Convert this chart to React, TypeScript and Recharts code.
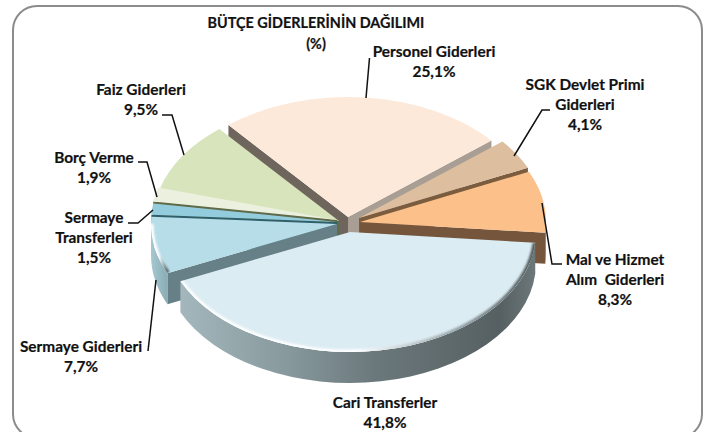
import React from 'react'
import {PieChart, Pie} from 'recharts'

const categories = ['Personel Giderleri', 'SGK Devlet Primi Giderleri', 'Mal ve Hizmet Alım  Giderleri', 'Cari Transferler', 'Sermaye Giderleri', 'Sermaye Transferleri', 'Borç Verme', 'Faiz Giderleri']
const values = [25.1, 4.1, 8.3, 41.8, 7.7, 1.5, 1.9, 9.5]
const valueLabels = ['25,1%', '4,1%', '8,3%', '41,8%', '7,7%', '1,5%', '1,9%', '9,5%']
const titleLines = ['BÜTÇE GİDERLERİNİN DAĞILIMI', '(%)']

const data = categories.map((name, i) => ({name, value: values[i]}))

// look of each slice, same order as categories
const topColors = ['#FDE9D9', '#DDBE9E', '#FCC08A', '#DCECF3', '#B7DDE8', '#93CDDD', '#EBF1DE', '#D7E4BC']
const wallColors = ['#6E655C', '#7B5C3E', '#75563D', '#7C8C90', '#678087', '#2F5F6B', '#5E6A48', '#5E6A48']
const endWallColors = ['#A89E94', '#7B5C3E', '#75563D', '#7C8C90', '#678087', '#2F5F6B', '#5E6A48', '#5E6A48']
const rimColors = ['#B8A99A', '#8F6F50', '#8A6A4C', 'url(#cariRim)', 'url(#sermayeRim)', '#6E9BA6', '#A8B08F', '#98A67C']
const explode = [[1, -4], [12, -3], [13, 1], [3, 11], [-10, 3], [-10, 1], [-10, -1], [-8, 0]]

// back to front
const drawOrder = [0, 1, 2, 7, 6, 5, 4, 3]

const SQUASH = 0.645
const DEPTH = 31
const RAD = Math.PI / 180

function Slice(props: any) {
  const {cx, cy, outerRadius, startAngle, endAngle, index} = props
  const rx = outerRadius
  const ry = outerRadius * SQUASH
  const x0 = cx + explode[index][0]
  const y0 = cy + explode[index][1]
  const pt = (a: number, d = 0) => [x0 + rx * Math.cos(a * RAD), y0 - ry * Math.sin(a * RAD) + d]
  const arc = (from: number, to: number, d = 0) => {
    const p = pt(to, d)
    return `A${rx} ${ry} 0 ${Math.abs(from - to) > 180 ? 1 : 0} ${from > to ? 1 : 0} ${p[0]} ${p[1]}`
  }
  const wall = (a: number) => {
    const p = pt(a)
    return `M${x0} ${y0}L${p[0]} ${p[1]}L${p[0]} ${p[1] + DEPTH}L${x0} ${y0 + DEPTH}Z`
  }
  const s = pt(startAngle)
  const top = `M${x0} ${y0}L${s[0]} ${s[1]}${arc(startAngle, endAngle)}Z`

  // outer rim: only the part of the arc below the horizontal shows
  let rim = null
  let bevel = null
  const rimFrom = startAngle > 0 ? (endAngle < 0 ? 0 : null) : Math.min(startAngle, 0)
  let rimTo = endAngle
  if (rimFrom !== null && rimTo < -180) rimTo = -180
  if (rimFrom !== null && rimFrom > rimTo) {
    const a = pt(rimFrom)
    const b = pt(rimTo, DEPTH)
    rim = <path d={`M${a[0]} ${a[1]}${arc(rimFrom, rimTo)}L${b[0]} ${b[1]}${arc(rimTo, rimFrom, DEPTH)}Z`} fill={rimColors[index]} />
    bevel = <path d={`M${a[0]} ${a[1]}${arc(rimFrom, rimTo)}`} fill='none' stroke='url(#bevel)' strokeWidth={5} filter='url(#soft)' clipPath={`url(#clip${index})`} />
  }

  return (
    <g>
      {Math.cos(startAngle * RAD) < 0 && <path d={wall(startAngle)} fill={wallColors[index]} />}
      {Math.cos(endAngle * RAD) > 0 && <path d={wall(endAngle)} fill={endWallColors[index]} />}
      {rim}
      <clipPath id={`clip${index}`}><path d={top} /></clipPath>
      <path d={top} fill={topColors[index]} />
      {index > 2 && index < 5 ? bevel : null}
    </g>
  )
}

const textStyle = {fontFamily: 'Lato, sans-serif', fontWeight: 700, fontSize: 15.4, fill: '#111', stroke: '#111', strokeWidth: 0.2}

// label placement: centre x, first baseline, lines, leader polyline
const labelSpots: {x: number; y: number; lines: string[]; leader: string}[] = [
  {x: 434, y: 57, lines: ['Personel Giderleri'], leader: '369.5,58 366,98'},
  {x: 585, y: 90, lines: ['SGK Devlet Primi', 'Giderleri'], leader: '550,110 542,110 514,156'},
  {x: 615, y: 265, lines: ['Mal ve Hizmet', 'Alım  Giderleri'], leader: '562,264 552,264 542,203'},
  {x: 385, y: 408, lines: ['Cari Transferler'], leader: ''},
  {x: 81, y: 352, lines: ['Sermaye Giderleri'], leader: '148,351 156,280'},
  {x: 94, y: 223, lines: ['Sermaye', 'Transferleri'], leader: '128,223 138,223 153,210'},
  {x: 94, y: 163, lines: ['Borç Verme'], leader: '138,162 147,162 157,197'},
  {x: 141, y: 95, lines: ['Faiz Giderleri'], leader: '162,115 172,115 184,155'},
]

function SliceLabel({index}: any) {
  const spot = labelSpots[index]
  return (
    <g>
      {spot.leader && <polyline points={spot.leader} fill='none' stroke='#111' strokeWidth={1.5} />}
      <text textAnchor='middle' style={textStyle}>
        {[...spot.lines, valueLabels[index]].map((line, i) => (
          <tspan key={i} x={spot.x} y={spot.y + i * 20} style={{whiteSpace: 'pre'}}>{line}</tspan>
        ))}
      </text>
    </g>
  )
}

export default function App() {
  return (
    <div style={{position: 'absolute', left: 0, top: 0, width: 716, height: 432, background: '#fff', overflow: 'hidden'}}>
      <div style={{position: 'absolute', left: 12, top: 5, width: 687, height: 430, border: '2px solid #8C8C8C', borderRadius: 25}} />
      <div style={{position: 'absolute', left: 0, top: 0}}>
        <PieChart width={716} height={432} margin={{top: 0, right: 0, bottom: 0, left: 0}}>
          <defs>
            <linearGradient id='cariRim' x1='0' y1='0' x2='1' y2='0'>
              <stop offset='0' stopColor='#A4B7BC' />
              <stop offset='0.3' stopColor='#87999D' />
              <stop offset='0.55' stopColor='#6B787B' />
              <stop offset='0.9' stopColor='#566062' />
              <stop offset='1' stopColor='#6C7779' />
            </linearGradient>
            <linearGradient id='sermayeRim' x1='0' y1='0' x2='1' y2='0'>
              <stop offset='0' stopColor='#A6C8D0' />
              <stop offset='1' stopColor='#8AACB4' />
            </linearGradient>
            <linearGradient id='bevel' x1='0' y1='0' x2='1' y2='0'>
              <stop offset='0' stopColor='#FFFFFF' />
              <stop offset='0.5' stopColor='#FFFFFF' />
              <stop offset='0.75' stopColor='#9AA8AC' />
              <stop offset='1' stopColor='#4E585A' />
            </linearGradient>
            <filter id='soft' x='-10%' y='-10%' width='120%' height='120%'>
              <feGaussianBlur stdDeviation='1.2' />
            </filter>
          </defs>
          {drawOrder.map(target => (
            <Pie
              key={target}
              data={data}
              dataKey='value'
              nameKey='name'
              cx={347}
              cy={221}
              outerRadius={186}
              startAngle={130}
              endAngle={-230}
              stroke='none'
              isAnimationActive={false}
              shape={(p: any, i: number) => (i === target ? <Slice {...p} index={i} /> : <g />)}
            />
          ))}
          <Pie
            data={data}
            dataKey='value'
            nameKey='name'
            cx={347}
            cy={221}
            outerRadius={186}
            startAngle={130}
            endAngle={-230}
            isAnimationActive={false}
            shape={() => <g />}
            labelLine={false}
            label={(p: any) => <SliceLabel index={p.index} />}
          />
          {titleLines.map((line, i) => (
            <text key={line} x={316} y={28 + i * 21} textAnchor='middle' style={{...textStyle, fontSize: 14.4}}>{line}</text>
          ))}
        </PieChart>
      </div>
    </div>
  )
}
